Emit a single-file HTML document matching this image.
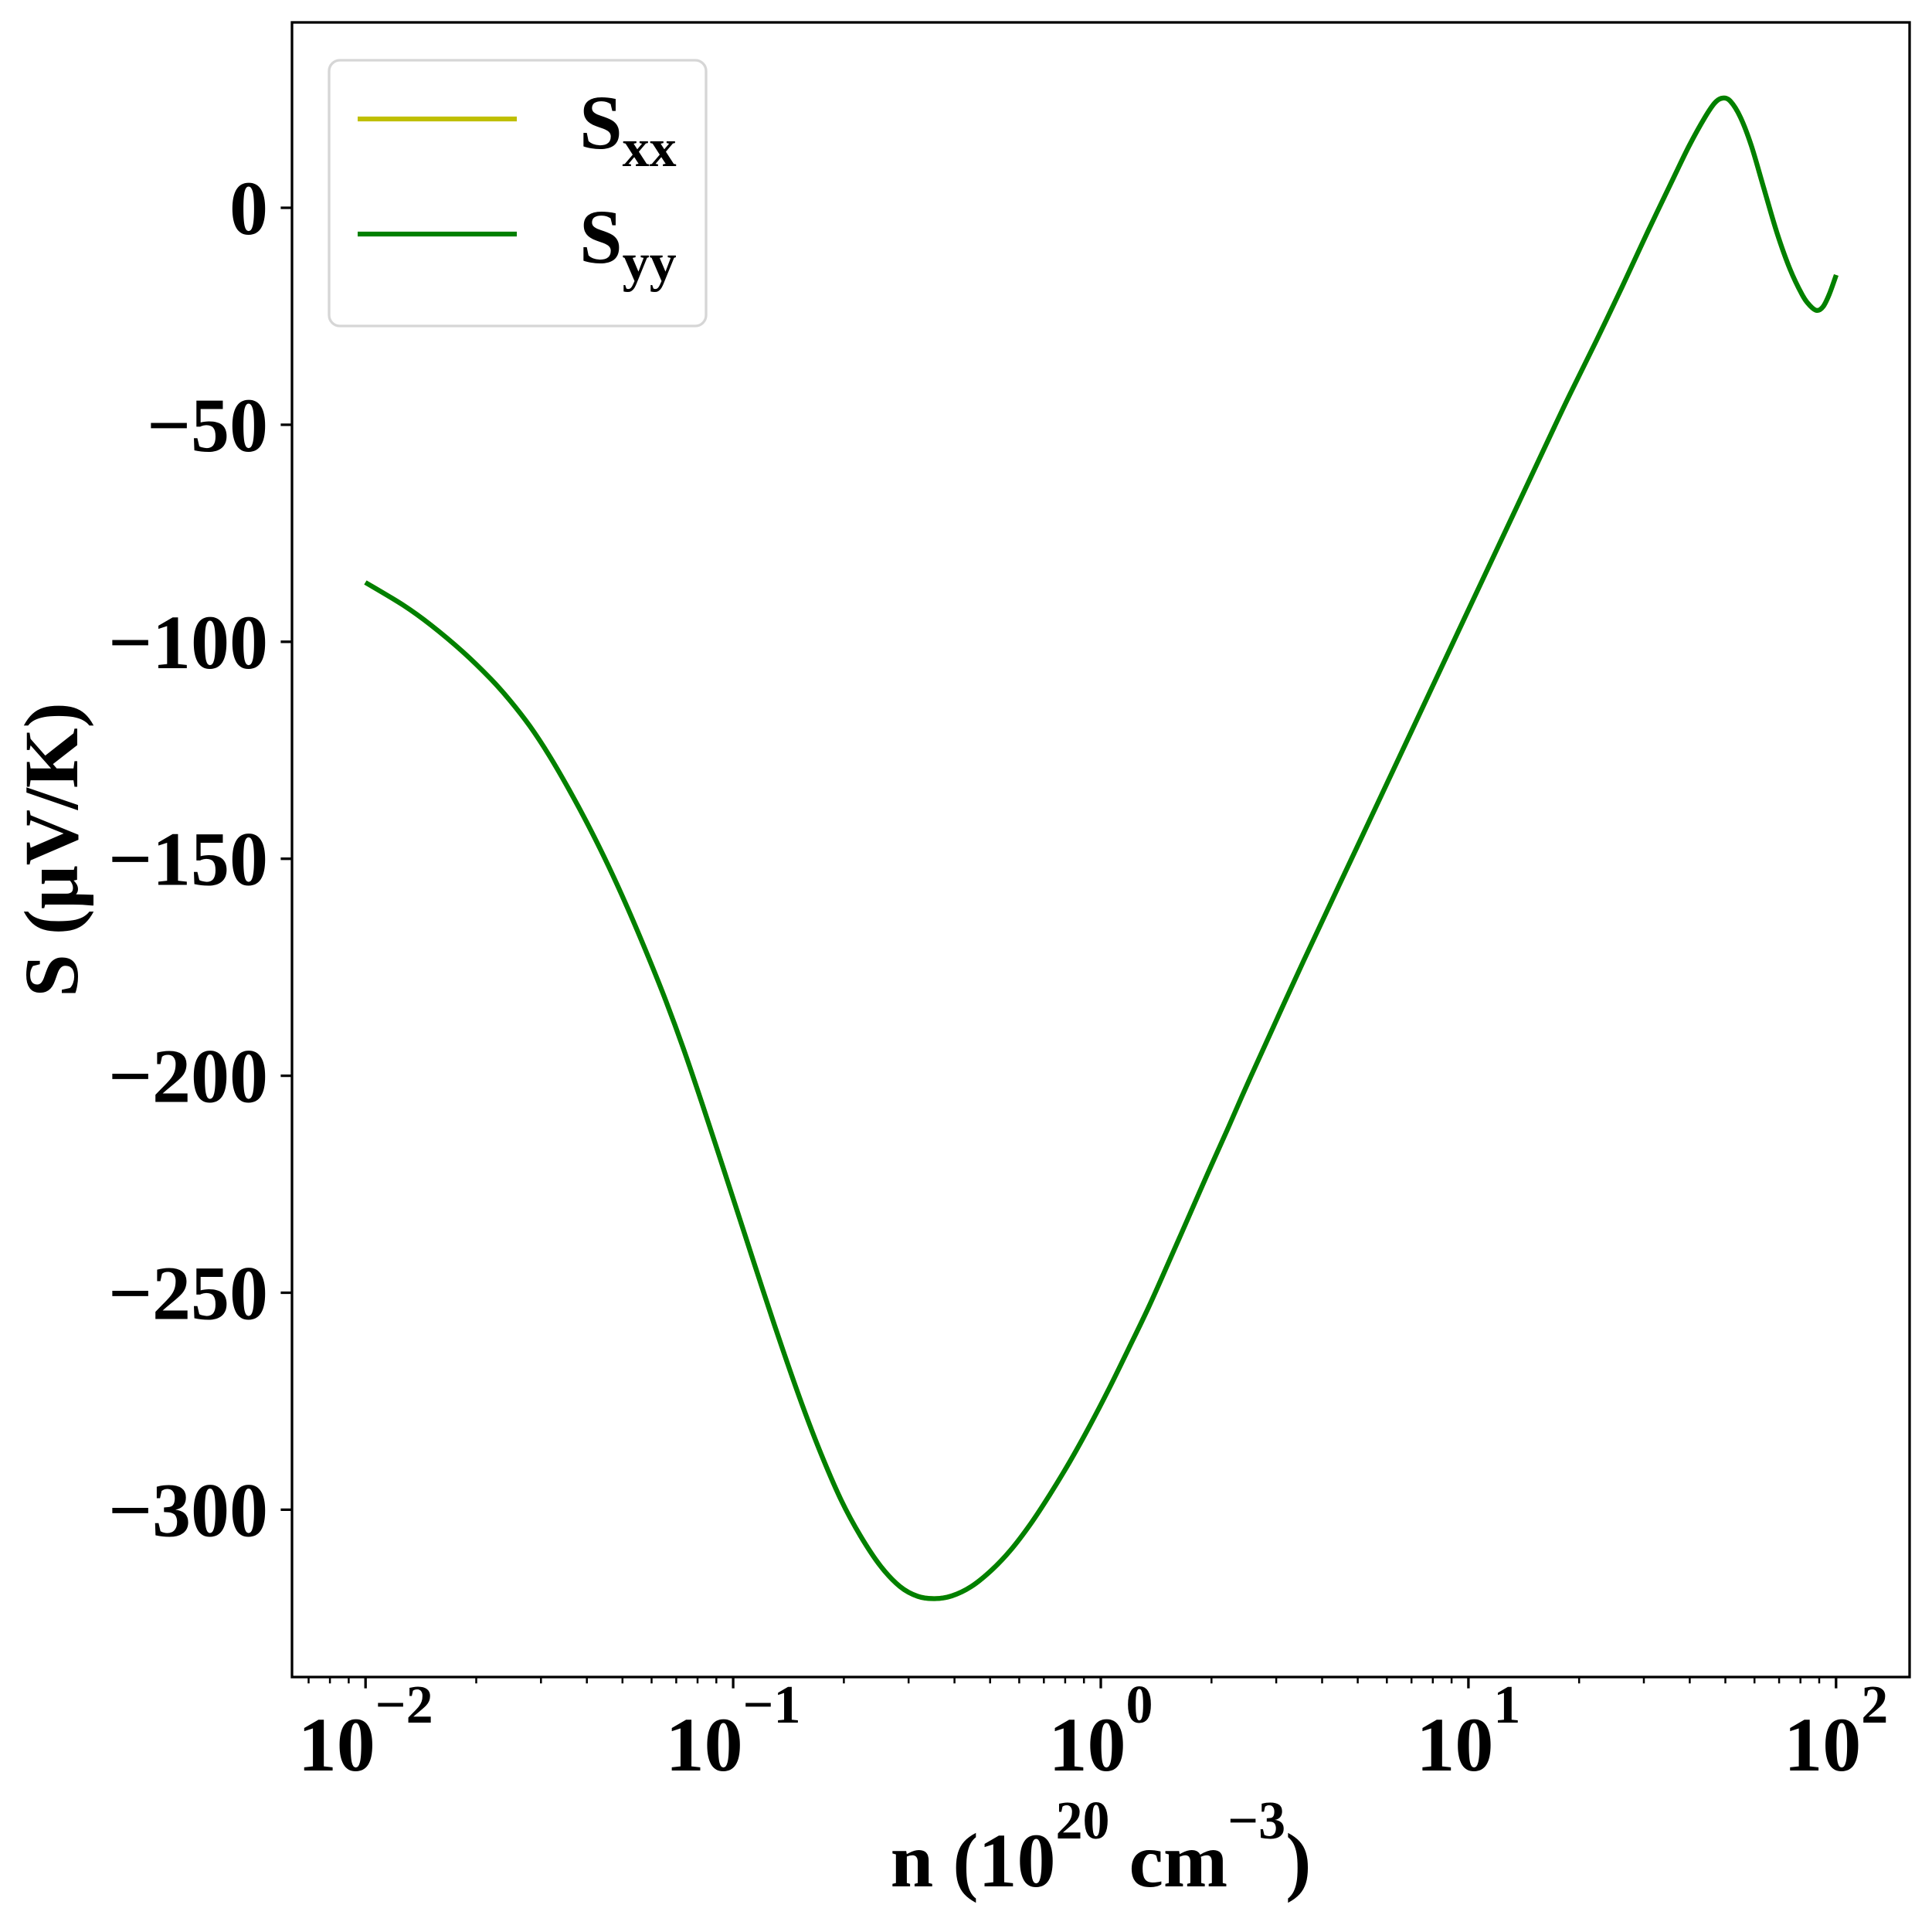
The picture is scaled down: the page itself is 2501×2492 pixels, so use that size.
<!DOCTYPE html>
<html>
<head>
<meta charset="utf-8">
<style>
  html, body { margin: 0; padding: 0; background: #ffffff; }
  svg { display: block; }
  text { font-family: "Liberation Serif", "Times New Roman", serif; font-weight: bold; fill: #000; }
</style>
</head>
<body>
<svg width="2501" height="2492" viewBox="0 0 2501 2492" xmlns="http://www.w3.org/2000/svg">
  <rect x="0" y="0" width="2501" height="2492" fill="#ffffff"/>

  <!-- data curves (polyline fallback; smoothed by script) -->
  <g fill="none" stroke-width="6.25" stroke-linejoin="round" stroke-linecap="butt">
    <polyline id="pxx" stroke="#bfbf00" points="473,754 522,783.4 558,809.3 599,843.7 635,878.6 660,906.6 686,940.1 711,978.1 737,1022.8 762,1069.3 788,1121.8 813,1176.8 839,1238.2 862,1295.7 885,1358.3 910,1432 938,1517.4 964,1597.5 987,1668.3 1012,1743.3 1038,1817.4 1063,1882.4 1089,1942.2 1114,1988.5 1140,2027.5 1165,2053.8 1188,2066.5 1210,2069.5 1232,2066 1257,2054 1283,2033.2 1308,2007 1334,1972.9 1359,1934.9 1385,1892 1410,1847 1436,1797 1461,1746 1487,1692 1512,1636 1538,1577 1563,1520 1589,1462 1619,1394 1687,1245 1757,1096 1827,947 1895,802 1966,651 2012,553 2033,509 2067,440 2100,371 2133,300 2167,229 2187,188 2207,152 2220,133 2230,127 2240,131 2253,151.8 2267,188.2 2283,242.6 2300,300.4 2317,348 2333,381.6 2343,395.6 2352,401.9 2360,397 2368,381 2377,356"/>
    <polyline id="pyy" stroke="#008000" points="473,754 522,783.4 558,809.3 599,843.7 635,878.6 660,906.6 686,940.1 711,978.1 737,1022.8 762,1069.3 788,1121.8 813,1176.8 839,1238.2 862,1295.7 885,1358.3 910,1432 938,1517.4 964,1597.5 987,1668.3 1012,1743.3 1038,1817.4 1063,1882.4 1089,1942.2 1114,1988.5 1140,2027.5 1165,2053.8 1188,2066.5 1210,2069.5 1232,2066 1257,2054 1283,2033.2 1308,2007 1334,1972.9 1359,1934.9 1385,1892 1410,1847 1436,1797 1461,1746 1487,1692 1512,1636 1538,1577 1563,1520 1589,1462 1619,1394 1687,1245 1757,1096 1827,947 1895,802 1966,651 2012,553 2033,509 2067,440 2100,371 2133,300 2167,229 2187,188 2207,152 2220,133 2230,127 2240,131 2253,151.8 2267,188.2 2283,242.6 2300,300.4 2317,348 2333,381.6 2343,395.6 2352,401.9 2360,397 2368,381 2377,356"/>
    <path id="sxx" stroke="#bfbf00" d=""/>
    <path id="syy" stroke="#008000" d=""/>
  </g>

  <!-- axes frame -->
  <rect x="378" y="29" width="2094" height="2142" fill="none" stroke="#000" stroke-width="3.3"/>

  <!-- y major ticks -->
  <path stroke="#000" stroke-width="3.3" fill="none"
    d="M378 269 h-14.6 M378 549.9 h-14.6 M378 830.8 h-14.6 M378 1111.7 h-14.6 M378 1392.6 h-14.6 M378 1673.5 h-14.6 M378 1954.4 h-14.6"/>

  <!-- x major ticks -->
  <path stroke="#000" stroke-width="3.3" fill="none"
    d="M473.2 2171 v14.6 M949.1 2171 v14.6 M1425 2171 v14.6 M1900.9 2171 v14.6 M2376.8 2171 v14.6"/>

  <!-- x minor ticks -->
  <path stroke="#000" stroke-width="2.5" fill="none"
    d="M399.5 2171 v8.3 M427.1 2171 v8.3 M451.4 2171 v8.3
       M616.5 2171 v8.3 M700.3 2171 v8.3 M759.7 2171 v8.3 M805.8 2171 v8.3 M843.5 2171 v8.3 M875.4 2171 v8.3 M903 2171 v8.3 M927.3 2171 v8.3
       M1092.4 2171 v8.3 M1176.2 2171 v8.3 M1235.6 2171 v8.3 M1281.7 2171 v8.3 M1319.4 2171 v8.3 M1351.3 2171 v8.3 M1378.9 2171 v8.3 M1403.2 2171 v8.3
       M1568.3 2171 v8.3 M1652.1 2171 v8.3 M1711.5 2171 v8.3 M1757.6 2171 v8.3 M1795.3 2171 v8.3 M1827.2 2171 v8.3 M1854.8 2171 v8.3 M1879.1 2171 v8.3
       M2044.2 2171 v8.3 M2128 2171 v8.3 M2187.4 2171 v8.3 M2233.5 2171 v8.3 M2271.2 2171 v8.3 M2303.1 2171 v8.3 M2330.7 2171 v8.3 M2355 2171 v8.3"/>

  <!-- y tick labels -->
  <g font-size="100" text-anchor="end">
    <text x="347" y="303">0</text>
    <text x="347" y="583.9">−50</text>
    <text x="347" y="864.8">−100</text>
    <text x="347" y="1145.7">−150</text>
    <text x="347" y="1426.6">−200</text>
    <text x="347" y="1707.5">−250</text>
    <text x="347" y="1988.4">−300</text>
  </g>

  <!-- x tick labels -->
  <g font-size="100" text-anchor="middle">
    <text x="473.2" y="2292">10<tspan font-size="70" dy="-62">−2</tspan></text>
    <text x="949.1" y="2292">10<tspan font-size="70" dy="-62">−1</tspan></text>
    <text x="1425" y="2292">10<tspan font-size="70" dy="-62">0</tspan></text>
    <text x="1900.9" y="2292">10<tspan font-size="70" dy="-62">1</tspan></text>
    <text x="2376.8" y="2292">10<tspan font-size="70" dy="-62">2</tspan></text>
  </g>

  <!-- x axis label -->
  <text x="1425" y="2442" font-size="100" text-anchor="middle">n (10<tspan font-size="70" dy="-62">20</tspan><tspan dy="62"> cm</tspan><tspan font-size="70" dy="-62">−3</tspan><tspan dy="62">)</tspan></text>

  <!-- y axis label -->
  <text transform="translate(100,1100) rotate(-90)" font-size="100" text-anchor="middle">S (μV/K)</text>

  <!-- legend -->
  <rect x="426" y="78" width="488" height="344" rx="14" ry="14" fill="#ffffff" fill-opacity="0.8" stroke="#d6d6d6" stroke-width="3.3"/>
  <line x1="463" y1="154" x2="669" y2="154" stroke="#bfbf00" stroke-width="6.25"/>
  <line x1="463" y1="303" x2="669" y2="303" stroke="#008000" stroke-width="6.25"/>
  <text x="750" y="192" font-size="100">S<tspan font-size="70" dy="23">xx</tspan></text>
  <text x="750" y="340" font-size="100">S<tspan font-size="70" dy="23">yy</tspan></text>
</svg>
<script>
(function () {
  function smooth(polyId, pathId) {
    var pl = document.getElementById(polyId);
    var pa = document.getElementById(pathId);
    if (!pl || !pa) return;
    var raw = pl.getAttribute('points').trim().split(/\s+/);
    var p = raw.map(function (s) { var a = s.split(','); return [parseFloat(a[0]), parseFloat(a[1])]; });
    if (p.length < 3) return;
    var d = 'M' + p[0][0] + ' ' + p[0][1];
    for (var i = 0; i < p.length - 1; i++) {
      var p0 = p[i > 0 ? i - 1 : 0];
      var p1 = p[i];
      var p2 = p[i + 1];
      var p3 = p[i + 2 < p.length ? i + 2 : p.length - 1];
      var c1x = p1[0] + (p2[0] - p0[0]) / 6, c1y = p1[1] + (p2[1] - p0[1]) / 6;
      var c2x = p2[0] - (p3[0] - p1[0]) / 6, c2y = p2[1] - (p3[1] - p1[1]) / 6;
      d += ' C' + c1x.toFixed(2) + ' ' + c1y.toFixed(2) + ' ' + c2x.toFixed(2) + ' ' + c2y.toFixed(2) + ' ' + p2[0] + ' ' + p2[1];
    }
    pa.setAttribute('d', d);
    pl.setAttribute('visibility', 'hidden');
  }
  smooth('pxx', 'sxx');
  smooth('pyy', 'syy');
})();
</script>
</body>
</html>
